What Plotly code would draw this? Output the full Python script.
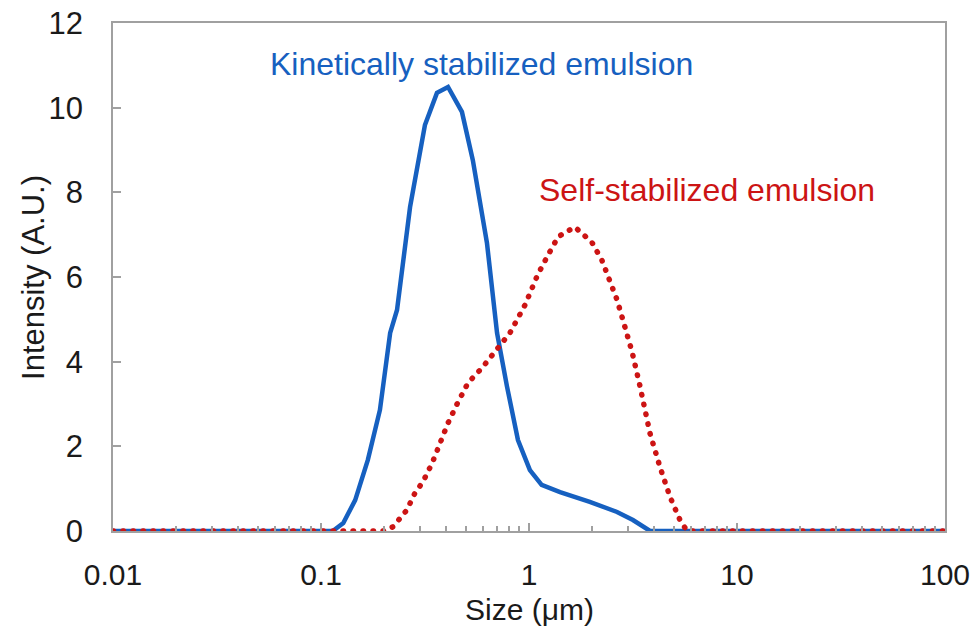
import plotly.graph_objects as go

# Kinetically stabilized emulsion (blue, solid)
kin_size = [0.01, 0.114, 0.128, 0.146, 0.168, 0.192, 0.215, 0.232, 0.268, 0.316, 0.361, 0.408,
            0.476, 0.537, 0.628, 0.702, 0.784, 0.885, 1.01, 1.15, 1.41, 1.96, 2.65, 3.16, 3.82, 100]
kin_int = [0.0, 0.0, 0.19, 0.73, 1.68, 2.86, 4.68, 5.22, 7.65, 9.59, 10.35, 10.49,
           9.90, 8.76, 6.80, 4.68, 3.41, 2.15, 1.44, 1.09, 0.92, 0.69, 0.45, 0.26, 0.0, 0.0]

# Self-stabilized emulsion (red, dotted)
self_size = [0.01, 0.199, 0.222, 0.259, 0.283, 0.309, 0.342, 0.373, 0.408, 0.451, 0.509, 0.594,
             0.70, 0.81, 0.957, 1.10, 1.22, 1.38, 1.66, 2.0, 2.24, 2.45, 2.65, 2.83, 3.13,
             3.42, 3.82, 4.27, 4.77, 5.32, 5.75, 100]
self_int = [0.0, 0.0, 0.1, 0.5, 0.9, 1.16, 1.6, 2.1, 2.55, 3.0, 3.5, 3.85,
            4.28, 4.68, 5.34, 6.05, 6.47, 6.95, 7.18, 6.83, 6.40, 5.93, 5.46, 4.98, 4.23,
            3.41, 2.3, 1.5, 0.8, 0.26, 0.0, 0.0]

x_ticks = [0.01, 0.1, 1, 10, 100]
x_ticklabels = ["0.01", "0.1", "1", "10", "100"]
y_ticks = [0, 2, 4, 6, 8, 10, 12]

BLUE = "#1660c0"
RED = "#cc1414"
FONT = "Liberation Sans, Arial, sans-serif"

fig = go.Figure()
fig.add_trace(go.Scatter(x=kin_size, y=kin_int, mode="lines", name="kinetic",
                         line=dict(color=BLUE, width=4.5), showlegend=False))
fig.add_trace(go.Scatter(x=self_size, y=self_int, mode="lines", name="self",
                         line=dict(color=RED, width=5.5, dash="0.5px,9.5px"), showlegend=False))

fig.add_annotation(x=-0.226, y=11.03, xref="x", yref="y", text="Kinetically stabilized emulsion",
                   showarrow=False, font=dict(color=BLUE, size=32, family=FONT))
fig.add_annotation(x=0.858, y=8.06, xref="x", yref="y", text="Self-stabilized emulsion",
                   showarrow=False, font=dict(color=RED, size=32, family=FONT))

# axis titles placed as annotations for exact positioning
fig.add_annotation(x=0.5, y=-0.154, xref="paper", yref="paper", text="Size (μm)",
                   showarrow=False, yanchor="middle", xanchor="center",
                   font=dict(size=30, family=FONT, color="#1a1a1a"))
fig.add_annotation(x=-0.0962, y=0.5, xref="paper", yref="paper", text="Intensity (A.U.)",
                   showarrow=False, textangle=-90, xanchor="center", yanchor="middle",
                   font=dict(size=31, family=FONT, color="#1a1a1a"))

axis_line = "#a0a0a0"
fig.update_layout(
    width=977, height=635,
    margin=dict(l=113, r=32, t=23, b=104),
    paper_bgcolor="white", plot_bgcolor="white",
    font=dict(family=FONT, color="#1a1a1a", size=30),
    xaxis=dict(type="log", range=[-2, 2], tickvals=x_ticks, ticktext=x_ticklabels,
               ticks="inside", ticklen=8, tickcolor=axis_line, tickwidth=1.5,
               showline=True, linecolor=axis_line, linewidth=1.5, mirror=True,
               showgrid=False, zeroline=False, ticklabelstandoff=16, automargin=False,
               ticklabeloverflow="allow",
               minor=dict(ticks="inside", ticklen=5, tickcolor=axis_line, dtick="D1", showgrid=False)),
    yaxis=dict(range=[0, 12], tickvals=y_ticks, ticks="inside", ticklen=8,
               tickcolor=axis_line, tickwidth=1.5,
               showline=True, linecolor=axis_line, linewidth=1.5, mirror=True,
               showgrid=False, zeroline=False, ticklabelstandoff=22, automargin=False,
               ticklabeloverflow="allow", tickfont=dict(size=31)),
)

post = """
document.body.style.margin = '0';
document.querySelectorAll('.scatterlayer .trace').forEach(function (t, i) {
  if (i === 1) {
    t.querySelectorAll('path.js-line').forEach(function (p) {
      p.style.strokeLinecap = 'round';
    });
  }
});
"""
fig.write_html("out.html", post_script=post, config={"displayModeBar": False})
